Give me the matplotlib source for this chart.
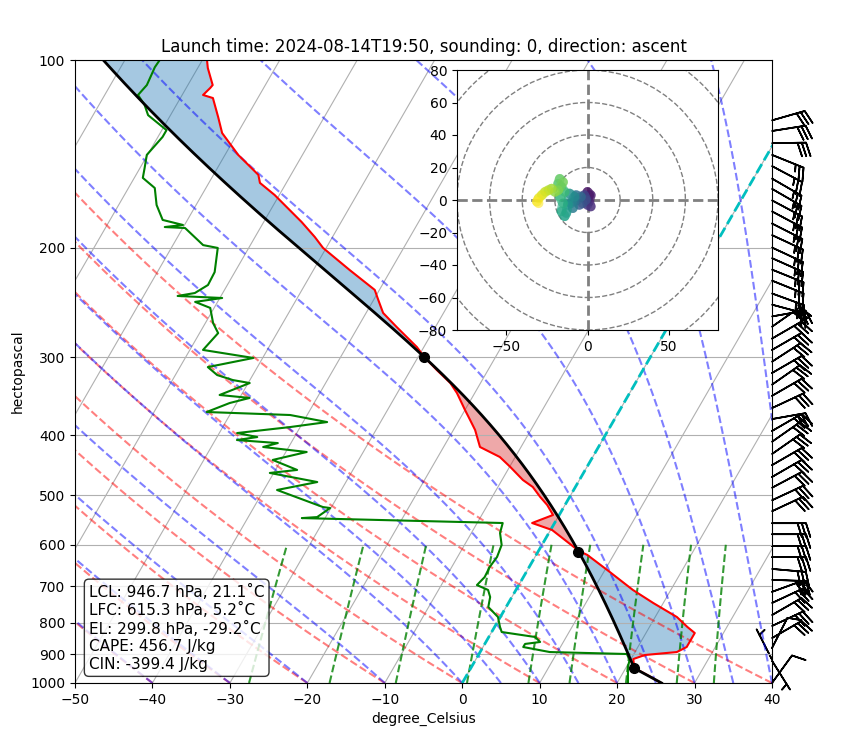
import numpy as np
import matplotlib
matplotlib.use('Agg')
import matplotlib.pyplot as plt
from matplotlib.collections import LineCollection
from matplotlib.patches import Circle
from matplotlib.ticker import NullLocator, ScalarFormatter

# ---- sounding values ----
t_pres = [1000.0, 970.9, 946.1, 915.2, 901.7, 891.9, 875.5, 846.9, 831.3, 813.0,
          783.6, 744.0, 709.0, 658.6, 622.9, 613.8, 607.0, 568.1, 553.6, 537.4,
          517.9, 502.8, 484.6, 472.2, 450.0, 433.7, 418.0, 392.5, 378.2, 364.5,
          342.4, 330.0, 314.6, 299.7, 288.9, 268.3, 254.7, 242.7, 233.9, 217.4,
          200.3, 192.3, 182.0, 164.7, 157.5, 152.9, 142.0, 131.0, 123.5, 115.1,
          113.8, 110.9, 109.7, 103.0, 100.0]
t_temp = [25.7, 23.3, 21.1, 20.3, 21.5, 25.4, 26.3, 26.3, 26.3, 24.9,
          22.8, 18.7, 15.1, 10.3, 6.6, 5.2, 4.5, 0.2, -2.9, -0.8,
          -2.3, -3.8, -5.5, -7.3, -9.9, -12.0, -15.3, -17.2, -18.6, -20.0,
          -22.3, -23.9, -26.6, -29.2, -30.9, -35.0, -37.8, -39.4, -40.6, -45.3,
          -50.4, -52.3, -55.1, -60.6, -63.4, -64.2, -68.3, -72.0, -73.7, -75.8,
          -77.3, -76.9, -76.8, -78.7, -79.4]

td_pres = [1000.0, 942.5, 918.7, 898.4, 891.9, 875.5, 865.6, 859.3, 843.7, 828.3,
           813.0, 783.6, 755.1, 727.8, 709.0, 696.3, 676.0, 651.3, 627.6, 600.4,
           574.4, 553.6, 543.6, 541.6, 523.8, 521.9, 490.0, 475.8, 460.1, 455.0,
           438.5, 425.8, 418.0, 412.0, 407.4, 402.9, 397.0, 388.3, 381.2, 371.4,
           367.3, 355.3, 348.7, 344.9, 330.0, 326.4, 320.4, 311.1, 300.8, 292.0,
           274.4, 264.4, 250.0, 244.5, 241.0, 239.2, 236.6, 229.7, 219.0, 200.3,
           198.2, 186.1, 185.4, 184.0, 180.6, 170.9, 160.5, 154.6, 149.1, 142.0,
           132.9, 129.6, 122.6, 118.1, 113.8, 109.7, 104.9, 102.7, 100.0]
td_temp = [21.4, 20.2, 19.9, 19.1, 9.0, 5.2, 5.2, 7.0, 6.0, 1.3,
           0.7, -0.3, -2.3, -2.8, -3.6, -5.4, -5.0, -5.1, -4.9, -5.2,
           -6.3, -6.7, -33.0, -31.1, -30.1, -31.1, -38.3, -33.7, -40.5, -37.2,
           -41.1, -37.3, -43.3, -41.7, -47.2, -44.8, -47.7, -41.3, -36.9, -42.2,
           -53.2, -50.9, -48.7, -52.8, -49.8, -52.2, -54.6, -56.4, -51.2, -58.3,
           -57.6, -59.0, -60.5, -62.9, -59.7, -65.6, -63.6, -62.5, -62.6, -64.0,
           -66.1, -69.7, -72.4, -70.2, -73.2, -75.1, -76.6, -78.9, -79.4, -80.1,
           -79.4, -79.4, -82.9, -84.1, -85.7, -85.3, -85.5, -85.6, -85.5]

# LCL, LFC, EL
lvl_names = ['LCL', 'LFC', 'EL']
lvl_pres = [946.7, 615.3, 299.8]
lvl_temp = [21.1, 5.2, -29.2]
cape = 456.7
cin = -399.4

# wind barbs: pressure, direction (deg), speed
barb_pres = [125, 130, 136, 142, 148, 155, 161, 168, 175, 183, 191, 200, 208, 217,
             226, 237, 247, 258, 268, 280, 292, 305, 318, 332, 346, 362, 377, 394,
             410, 429, 447, 467, 486, 509, 530, 554, 577, 603, 628, 656, 683, 714,
             744, 778, 810, 847, 879, 917, 921, 1000]
barb_dir = [74, 81, 89, 112, 118, 120, 120, 118, 118, 117, 115, 115, 114, 112,
            112, 110, 105, 80, 55, 60, 60, 57, 60, 55, 60, 65, 80, 60,
            55, 55, 60, 60, 62, 65, 65, 90, 90, 90, 90, 95, 92, 70,
            65, 60, 65, 60, 27, 333, 148, 36]
barb_spd = [30, 30, 30, 25, 25, 25, 25, 25, 25, 25, 25, 25, 25, 25,
            25, 25, 25, 25, 30, 30, 30, 30, 30, 30, 30, 30, 30, 30,
            30, 30, 30, 30, 30, 30, 30, 30, 30, 30, 30, 30, 30, 30,
            30, 30, 30, 30, 10, 5, 5, 10]

# hodograph trace (bottom -> top)
hodo_u = [0, 1, 0, 2, 1, 2, 0, -1, -2, -1, -3, -5, -6, -4, -7, -8, -9, -10, -8, -11,
          -12, -13, -14, -16, -15, -17, -14, -16, -18, -17, -15, -18, -20, -22, -24,
          -26, -28, -30, -31, -30]
hodo_v = [0, 3, 5, 3, -1, -4, -3, 1, 3, 0, -2, -3, 0, 2, 3, -1, -5, -2, 2, 4,
          -3, -8, -10, -7, -2, 2, 5, 8, 10, 13, 11, 6, 5, 7, 6,
          5, 3, 1, -1, -2]

RD, CP, LV, EPS = 287.04749, 1004.6662, 2.50084e6, 0.6219569


def dry_lapse(t0c, p):
    return (np.asarray(t0c) + 273.15) * (p / 1000.0) ** (RD / CP) - 273.15


def moist_rate(T, p):
    es = 6.112 * np.exp(17.67 * (T - 273.15) / (T - 29.65))
    rs = EPS * es / (p - es)
    return (RD * T + LV * rs) / (CP + LV * LV * rs * EPS / (RD * T * T)) / p


def moist_lapse(t0c, plev):
    T = np.atleast_1d(np.asarray(t0c, dtype=float)) + 273.15
    out = [T.copy()]
    for i in range(len(plev) - 1):
        p, h = plev[i], plev[i + 1] - plev[i]
        k1 = moist_rate(T, p)
        k2 = moist_rate(T + h * k1 / 2, p + h / 2)
        k3 = moist_rate(T + h * k2 / 2, p + h / 2)
        k4 = moist_rate(T + h * k3, p + h)
        T = T + h * (k1 + 2 * k2 + 2 * k3 + k4) / 6
        out.append(T.copy())
    return np.array(out) - 273.15


fig = plt.figure(figsize=(8.52, 7.43), dpi=100)
ax = fig.add_axes([75 / 852, 60 / 743, 697 / 852, 623 / 743])
ax.set_yscale('log')
ax.set_xlim(-50, 40)
ax.set_ylim(1000, 100)

# skew of isotherms: 30 degrees from vertical in display space
bb = ax.get_position()
K = np.tan(np.radians(30)) * (bb.height * 7.43) / (bb.width * 8.52) * 90


def skew(t, p):
    return np.asarray(t) + K * np.log10(1000.0 / np.asarray(p))


ax.yaxis.set_major_formatter(ScalarFormatter())
ax.set_yticks(np.arange(100, 1001, 100))
ax.yaxis.set_minor_locator(NullLocator())
ax.set_xticks(np.arange(-50, 41, 10))
ax.grid(True, axis='y', color='#b0b0b0', lw=0.8)

# isotherm grid
for t in range(-100, 41, 10):
    ax.plot(skew([t, t], [1000, 100]), [1000, 100], color='#b0b0b0', lw=0.8, zorder=0.5)

pl = np.linspace(1000, 100, 451)

# dry adiabats
t0 = np.arange(-50, 41, 10)
segs = [np.column_stack([skew(dry_lapse(t, pl), pl), pl]) for t in t0]
ax.add_collection(LineCollection(segs, colors='r', linestyles='dashed', alpha=0.5, lw=1.5))

# moist adiabats
t0m = np.concatenate((np.arange(-50, 0, 10), np.arange(0, 61, 5)))
mt = moist_lapse(t0m, pl)
segs = [np.column_stack([skew(mt[:, i], pl), pl]) for i in range(len(t0m))]
ax.add_collection(LineCollection(segs, colors='b', linestyles='dashed', alpha=0.5, lw=1.5))

# mixing ratio lines
w_list = [0.0004, 0.001, 0.002, 0.004, 0.007, 0.01, 0.016, 0.024, 0.032]
pm = np.linspace(1000, 600, 50)
segs = []
for w in w_list:
    lg = np.log(pm * w / (EPS + w) / 6.112)
    td = 243.5 * lg / (17.67 - lg)
    segs.append(np.column_stack([skew(td, pm), pm]))
ax.add_collection(LineCollection(segs, colors='g', linestyles='dashed', alpha=0.8, lw=1.5))

# 0 degC isotherm
ax.plot(skew([0, 0], [1000, 100]), [1000, 100], color='c', ls='--', lw=2)

# parcel profile
p_dry = np.linspace(1000, lvl_pres[0], 30)
t_dry = dry_lapse((lvl_temp[0] + 273.15) * (1000 / lvl_pres[0]) ** (RD / CP) - 273.15, p_dry)
p_wet = np.linspace(lvl_pres[0], 100, 850)
t_wet = moist_lapse(lvl_temp[0], p_wet)[:, 0]
p_parc = np.concatenate([p_dry, p_wet[1:]])
t_parc = np.concatenate([t_dry, t_wet[1:]])

tp = np.array(t_pres)
tt = np.array(t_temp)
parc_at_t = np.interp(np.log(tp)[::-1], np.log(p_parc)[::-1], t_parc[::-1])[::-1]
ax.fill_betweenx(tp, skew(tt, tp), skew(parc_at_t, tp), where=tt >= parc_at_t,
                 interpolate=True, color='tab:blue', alpha=0.4, lw=0)
ax.fill_betweenx(tp, skew(tt, tp), skew(parc_at_t, tp), where=tt < parc_at_t,
                 interpolate=True, color='tab:red', alpha=0.4, lw=0)

ax.plot(skew(tt, tp), tp, 'r', lw=1.5)
ax.plot(skew(td_temp, td_pres), td_pres, 'g', lw=1.5)
ax.plot(skew(t_parc, p_parc), p_parc, 'k', lw=2)
ax.plot(skew(lvl_temp, lvl_pres), lvl_pres, 'ko', markersize=7)

# wind barbs on the right edge
d = np.radians(barb_dir)
u = -np.array(barb_spd) * np.sin(d)
v = -np.array(barb_spd) * np.cos(d)
ax.barbs(np.ones(len(barb_pres)), barb_pres, u, v, transform=ax.get_yaxis_transform(),
         clip_on=False, length=7, lw=1.2)

ax.set_xlabel('degree_Celsius')
ax.set_ylabel('hectopascal')
ax.set_title('Launch time: 2024-08-14T19:50, sounding: 0, direction: ascent')

info = '\n'.join(['{}: {:.1f} hPa, {:.1f}˚C'.format(n, p, t)
                  for n, p, t in zip(lvl_names, lvl_pres, lvl_temp)])
info += '\nCAPE: {:.1f} J/kg\nCIN: {:.1f} J/kg'.format(cape, cin)
ax.text(0.02, 0.018, info, transform=ax.transAxes, fontsize=11, va='bottom', ha='left',
        bbox=dict(boxstyle='round', facecolor='white', alpha=0.8), zorder=5)

# hodograph inset
hx = fig.add_axes([457 / 852, (743 - 330) / 743, 261 / 852, 260 / 743])
hx.set_xlim(-80, 80)
hx.set_ylim(-80, 80)
for r in range(20, 101, 20):
    hx.add_patch(Circle((0, 0), r, fill=False, ls='--', color='grey', lw=1))
hx.axhline(0, color='grey', ls='--', lw=2)
hx.axvline(0, color='grey', ls='--', lw=2)
pts = np.column_stack([hodo_u, hodo_v])
hs = np.stack([pts[:-1], pts[1:]], axis=1)
lc = LineCollection(hs, cmap='viridis', lw=7, alpha=0.6, capstyle='round')
lc.set_array(np.arange(len(hs)))
hx.add_collection(lc)
hx.set_xticks([-50, 0, 50])
hx.set_yticks(np.arange(-80, 81, 20))

fig.savefig('out.png', dpi=100)
